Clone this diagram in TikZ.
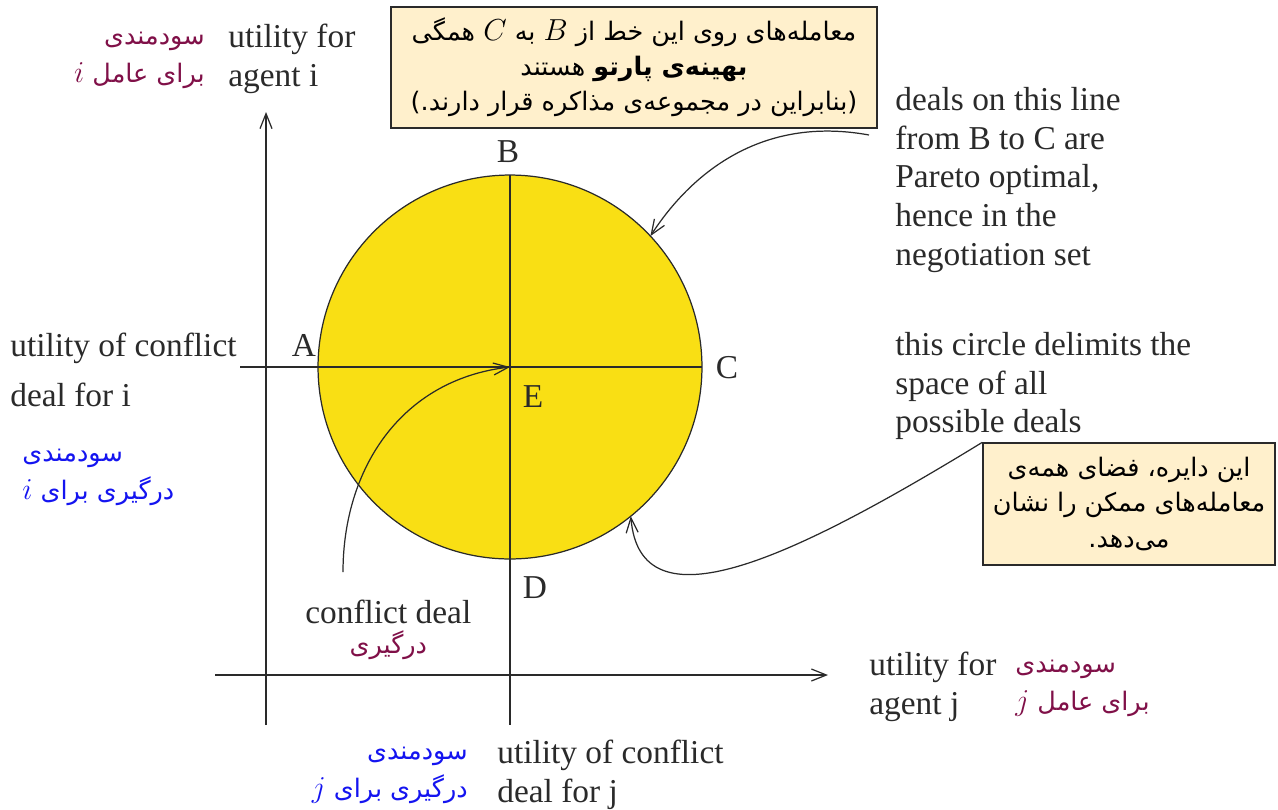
\documentclass[tikz,border=0pt]{standalone}
\usepackage{fontspec}
\setmainfont{Liberation Serif}
\newfontfamily\persian[Script=Arabic]{DejaVu Sans}
\TeXXeTstate=1
\usepackage{tikz}
\usetikzlibrary{arrows.meta, positioning, calc}
\definecolor{inkDark}   {HTML}{2A2A2A}
\definecolor{dealYellow}{HTML}{F9DF14}
\definecolor{noteFill}  {HTML}{FFF0CC}
\definecolor{faMaroon}  {HTML}{801048}
\definecolor{faBlue}    {HTML}{1414F0}
\newcommand{\fl}[1]{\beginR #1\endR}
\newcommand{\fm}[1]{{\fontsize{19}{21.5}\selectfont$#1$}}

\begin{document}
\begin{tikzpicture}[
    x=0.02cm, y=-0.02cm,
    lbl/.style={font=\fontsize{19}{22}\selectfont, text=inkDark, inner sep=0, align=left},
    fa/.style={font=\persian\fontsize{14.5}{21.5}\selectfont, inner sep=0},
    faRed/.style={fa, text=faMaroon},
    faBlu/.style={fa, text=faBlue},
    note/.style={draw=inkDark, fill=noteFill, line width=0.8pt, align=center, inner sep=2pt,
                 font=\persian\fontsize{14.5}{20}\selectfont},
    arr/.style={-{Straight Barb[length=3mm, width=2.4mm]}, draw=inkDark, line width=0.7pt},
    rule/.style={draw=inkDark, line width=0.7pt},
  ]
    \useasboundingbox (0,0) rectangle (1278,809);

    % axes
    \coordinate (yBot) at (266,725);
    \coordinate (yTop) at (266,112);
    \coordinate (xLeft) at (215,675);
    \coordinate (xRight) at (828,675);
    \draw[arr] (yBot) -- (yTop);
    \draw[arr] (xLeft) -- (xRight);

    % space of deals
    \coordinate (E) at (510,367);
    \node[circle, draw=inkDark, line width=0.7pt, fill=dealYellow, minimum size=7.68cm,
          inner sep=0, outer sep=0] (dealspace) at (E) {};
    \coordinate (cLeft) at (240,367);
    \coordinate (dBot) at (510,725);
    \draw[rule] (cLeft) -- (dealspace.east);
    \draw[rule] (dealspace.north) -- (dBot);

    \node[lbl] (ptA) at (304,345) {A};
    \node[lbl] (ptB) at (508,152) {B};
    \node[lbl] (ptC) at (727,368) {C};
    \node[lbl] (ptD) at (535,588) {D};
    \node[lbl] (ptE) at (533,397) {E};

    % english labels
    \node[lbl, anchor=north west] (agentI) at (228,24) {utility for\\agent i};
    \node[lbl, anchor=north west] (conflI) at (10,333) {utility of conflict\\[6pt]deal for i};
    \node[lbl, anchor=north west] (cdeal) at (305,600) {conflict deal};
    \node[lbl, anchor=north west] (agentJ) at (869,652) {utility for\\agent j};
    \node[lbl, anchor=north west] (conflJ) at (497,740) {utility of conflict\\deal for j};
    \node[lbl, anchor=north west] (paretoTxt) at (895,87)
      {deals on this line\\from B to C are\\Pareto optimal,\\hence in the\\negotiation set};
    \node[lbl, anchor=north west] (spaceTxt) at (895,332)
      {this circle delimits the\\space of all\\possible deals};

    % persian labels
    \node[faRed, align=right, anchor=north east] (faAgentI) at (205,32)
      {\fl{سودمندی}\\\fl{برای عامل \fm{i}}};
    \node[faBlu, align=left, anchor=north west] (faConflI) at (22,449)
      {\fl{سودمندی}\\\fl{درگیری برای \fm{i}}};
    \node[faRed, below=1.2mm of cdeal] (faCdeal) {\fl{درگیری}};
    \node[faRed, align=left, anchor=north west] (faAgentJ) at (1015,660)
      {\fl{سودمندی}\\\fl{برای عامل \fm{j}}};
    \node[faBlu, align=right, anchor=north east] (faConflJ) at (468,747)
      {\fl{سودمندی}\\\fl{درگیری برای \fm{j}}};

    % notes
    \node[note, minimum width=9.72cm, minimum height=2.42cm] (paretoNote) at (634,67.5)
      {\fl{معامله‌های روی این خط از \fm{B} به \fm{C} همگی}\\
       \fl{\textbf{بهینه‌ی پارتو} هستند}\\
       \fl{(بنابراین در مجموعه‌ی مذاکره قرار دارند.)}};
    \node[note, minimum width=5.84cm, minimum height=2.44cm] (circleNote) at (1129,504)
      {\fl{این دایره، فضای همه‌ی}\\\fl{معامله‌های ممکن را نشان}\\\fl{می‌دهد.}};

    % pointers
    \coordinate (paretoTail) at (869,135);
    \coordinate (cdealTail) at (343,572);
    \draw[arr] (paretoTail) .. controls (760,115) and (690,175) .. (dealspace.43);
    \draw[arr] (cdealTail) .. controls (343,470) and (400,380) .. (E);
    \draw[arr] (circleNote.north west) .. controls (790,560) and (640,630) .. (dealspace.-51);
\end{tikzpicture}
\end{document}
